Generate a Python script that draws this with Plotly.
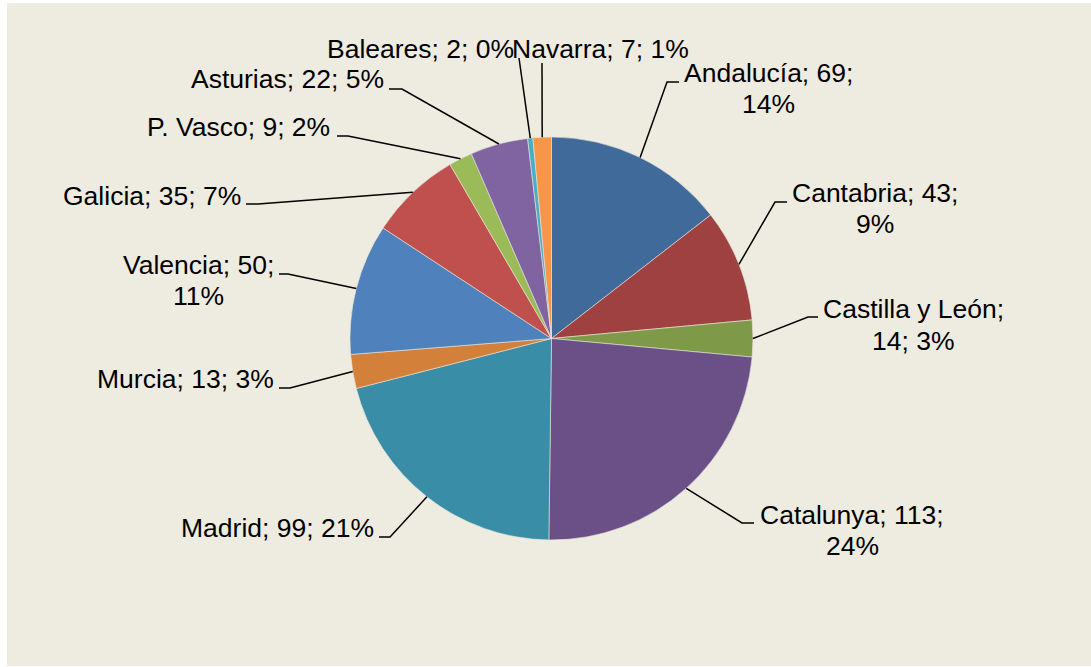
import math
import plotly.graph_objects as go

# ---- data ----
regions = ["Andalucía", "Cantabria", "Castilla y León", "Catalunya", "Madrid", "Murcia",
           "Valencia", "Galicia", "P. Vasco", "Asturias", "Baleares", "Navarra"]
counts = [69, 43, 14, 113, 99, 13, 50, 35, 9, 22, 2, 7]

# ---- styles ----
colors = ["#3F6A9A", "#9E4140", "#7E9A48", "#6A5087", "#3A8DA6", "#D2803A",
          "#4F81BD", "#C0504D", "#9BBB59", "#8064A2", "#4BACC6", "#F79646"]

W, H = 1091, 667
CX, CY, R = 551.5, 338.5, 201.5   # pie centre / radius in pixels
FONT = dict(family="Liberation Sans, Arial, sans-serif", size=26.5, color="#000000")
LINE_GAP = 31

# label layout (pixels): text centre x, first-line centre y, wrap index,
# elbow point and end point of the leader line
label_layout = [
    dict(tx=768.5, ty=73,    wrap=2, elbow=(667, 82),  end=(679, 82)),
    dict(tx=874.5, ty=192.5, wrap=2, elbow=(775, 202), end=(787, 202)),
    dict(tx=913.5, ty=309.5, wrap=1, elbow=(808, 317), end=(818, 317)),
    dict(tx=852,   ty=515,   wrap=2, elbow=(742, 523), end=(754, 523)),
    dict(tx=277,   ty=528,   wrap=0, elbow=(390, 537), end=(379, 537)),
    dict(tx=185.5, ty=378.5, wrap=0, elbow=(290, 388), end=(279, 388)),
    dict(tx=198,   ty=265,   wrap=2, elbow=(288, 274), end=(279, 274)),
    dict(tx=152,   ty=195.5, wrap=0, elbow=(258, 204), end=(246, 204)),
    dict(tx=238.5, ty=127,   wrap=0, elbow=(348, 136), end=(337, 136)),
    dict(tx=287.5, ty=79,    wrap=0, elbow=(402, 89),  end=(389, 89)),
    dict(tx=420,   ty=49,    wrap=0, elbow=(519, 58),  end=(519, 58)),
    dict(tx=600.5, ty=49,    wrap=0, elbow=(542, 63),  end=(542, 63)),
]


def px(x):
    return x / W


def py(y):
    return 1 - y / H


fig = go.Figure()
fig.add_trace(go.Pie(
    labels=regions,
    values=counts,
    sort=False,
    direction="clockwise",
    rotation=0,
    textinfo="none",
    hoverinfo="label+value+percent",
    marker=dict(colors=colors, line=dict(color="#E8E6DA", width=0.6)),
    domain=dict(x=[px(CX - R), px(CX + R)], y=[py(CY + R), py(CY - R)]),
    showlegend=False,
))

total = sum(counts)
shapes = [dict(type="rect", xref="paper", yref="paper",
               x0=px(7), x1=1, y0=py(666), y1=py(3),
               fillcolor="#EEECE1", line=dict(width=0), layer="below")]
annotations = []
cum = 0
for name, val, lay in zip(regions, counts, label_layout):
    mid = (cum + val / 2) / total * 2 * math.pi
    cum += val
    sx = CX + R * math.sin(mid)
    sy = CY - R * math.cos(mid)
    ex, ey = lay["elbow"]
    fx, fy = lay["end"]
    path = f"M {px(sx)},{py(sy)} L {px(ex)},{py(ey)} L {px(fx)},{py(fy)}"
    shapes.append(dict(type="path", xref="paper", yref="paper", path=path,
                       line=dict(color="#000000", width=1.5)))
    pct = round(val / total * 100)
    parts = [name, str(val), f"{pct}%"]
    if lay["wrap"]:
        lines = ["; ".join(parts[:lay["wrap"]]) + ";", "; ".join(parts[lay["wrap"]:])]
    else:
        lines = ["; ".join(parts)]
    for i, t in enumerate(lines):
        annotations.append(dict(
            x=px(lay["tx"]), y=py(lay["ty"] + i * LINE_GAP), xref="paper", yref="paper",
            text=t, showarrow=False, xanchor="center", yanchor="middle",
            font=FONT))

fig.update_layout(
    width=W, height=H,
    margin=dict(l=0, r=0, t=0, b=0),
    paper_bgcolor="#FFFFFF",
    plot_bgcolor="#EEECE1",
    shapes=shapes,
    annotations=annotations,
)

fig.write_html("out.html",
               config={"displayModeBar": False},
               post_script="document.body.style.margin='0';document.body.style.overflow='hidden';")
